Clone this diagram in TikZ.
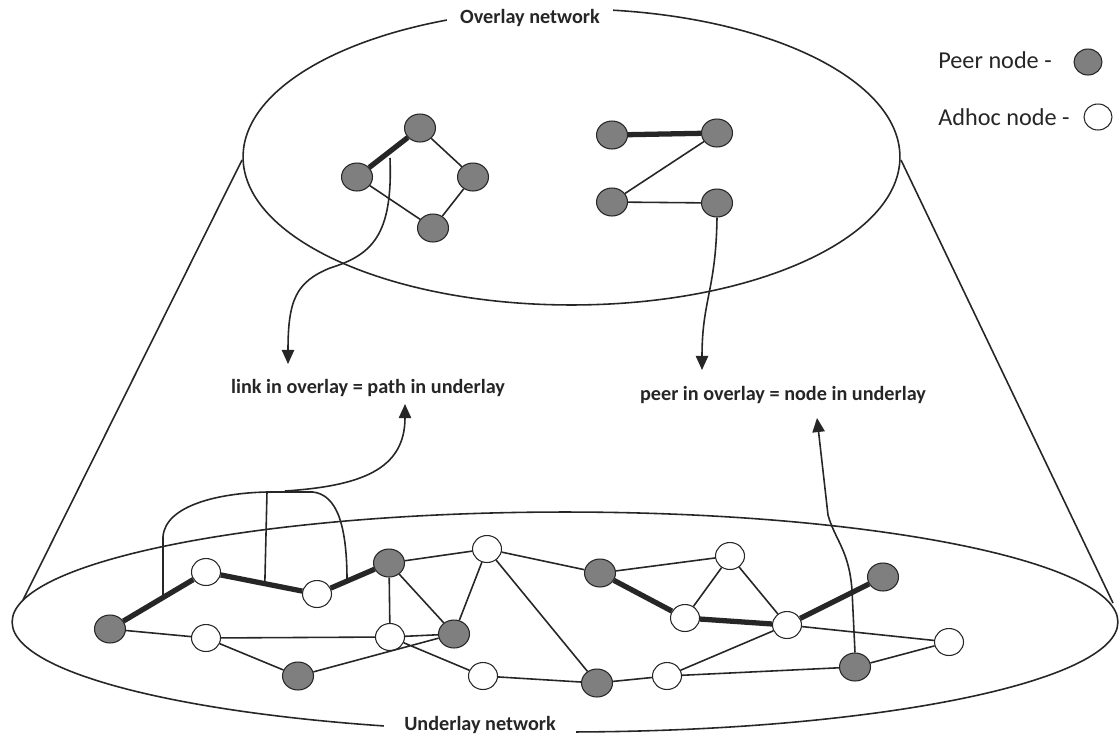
\documentclass[tikz,border=0pt]{standalone}
\usepackage{fontspec}
\setmainfont{Carlito}
\usetikzlibrary{shapes.geometric,arrows.meta,calc}
\definecolor{ink}{HTML}{262626}
\definecolor{peerfill}{HTML}{7F7F7F}
\begin{document}
\begin{tikzpicture}[x=0.02cm,y=-0.02cm,
 peer/.style={ellipse,draw=ink,fill=peerfill,line width=0.6pt,minimum width=0.62cm,minimum height=0.56cm,inner sep=0pt},
 adhoc/.style={ellipse,draw=ink,fill=white,line width=0.6pt,minimum width=0.58cm,minimum height=0.54cm,inner sep=0pt},
 thin link/.style={draw=ink,line width=0.9pt},
 thick link/.style={draw=ink,line width=3pt},
 outline/.style={draw=ink,line width=0.9pt},
 pointer/.style={draw=ink,line width=0.9pt,-{Triangle[length=8pt,width=7pt]}},
 caption/.style={font=\fontsize{11.5}{13}\selectfont\bfseries,text=ink,inner sep=0pt},
 legendtext/.style={font=\fontsize{13.8}{16}\selectfont,text=ink,anchor=west,inner sep=0pt}]
\useasboundingbox (0,0) rectangle (1119,738);
\fill[white] (0,0) rectangle (1119,738);

% overlay and underlay outlines
\draw[outline] (571.5,157) ellipse [x radius=6.57cm, y radius=2.96cm];
\draw[outline] (565,622) ellipse [x radius=11.06cm, y radius=2.2cm];
\draw[outline] (242,160) -- (23,600);
\draw[outline] (901,160) -- (1113,603);

\node[caption,fill=white,inner xsep=0.26cm,inner ysep=2pt] (ovl) at (530,18) {Overlay network};
\node[caption,fill=white,inner xsep=0.4cm,inner ysep=2pt] (unl) at (480,725) {Underlay network};

% overlay peers
\node[peer] (oA) at (420,128) {};
\node[peer] (oB) at (357,177) {};
\node[peer] (oC) at (473,177) {};
\node[peer] (oD) at (433,228) {};
\node[peer] (oE) at (612,135) {};
\node[peer] (oF) at (717,133) {};
\node[peer] (oG) at (612,202) {};
\node[peer] (oH) at (717,203) {};
\draw[thick link] (oA) -- (oB);
\draw[thin link] (oA) -- (oC) (oC) -- (oD) (oB) -- (oD);
\draw[thick link] (oE) -- (oF);
\draw[thin link] (oF) -- (oG) (oG) -- (oH);

% underlay nodes
\node[peer]  (u1)  at (110,629) {};
\node[adhoc] (u2)  at (206,572) {};
\node[adhoc] (u3)  at (317,594) {};
\node[peer]  (u4)  at (389,563) {};
\node[adhoc] (u5)  at (487,549) {};
\node[adhoc] (u6)  at (206,638) {};
\node[adhoc] (u7)  at (390,637) {};
\node[peer]  (u8)  at (454,634) {};
\node[peer]  (u9)  at (298,676) {};
\node[adhoc] (u10) at (483,676) {};
\node[peer]  (u11) at (600,573) {};
\node[adhoc] (u12) at (730,556) {};
\node[adhoc] (u13) at (685,618) {};
\node[adhoc] (u14) at (787,625) {};
\node[peer]  (u15) at (883,577) {};
\node[adhoc] (u16) at (949,642) {};
\node[peer]  (u17) at (597,683) {};
\node[adhoc] (u18) at (667,676) {};
\node[peer]  (u19) at (855,667) {};

\draw[thick link] (u1) -- (u2) (u2) -- (u3) (u3) -- (u4);
\draw[thick link] (u11) -- (u13) (u13) -- (u14) (u14) -- (u15);
\draw[thin link] (u1) -- (u6) (u6) -- (u7) (u6) -- (u9) (u9) -- (u8)
  (u7) -- (u8) (u4) -- (u7) (u4) -- (u8) (u4) -- (u5) (u5) -- (u8)
  (u5) -- (u17) (u5) -- (u11) (u7) -- (u10) (u10) -- (u17)
  (u17) -- (u18) (u18) -- (u14) (u18) -- (u19) (u11) -- (u12)
  (u12) -- (u13) (u12) -- (u14) (u14) -- (u16) (u19) -- (u16);

% captions
\node[caption] (lbl1) at (368,388) {link in overlay = path in underlay};
\node[caption] (lbl2) at (783,395) {peer in overlay = node in underlay};

% overlay link -> caption
\coordinate (a1s) at (390,158);
\coordinate (t1) at (288,364);
\draw[pointer] (a1s) .. controls (393,235) and (372,255) .. (330,268) .. controls (296,282) and (288,300) .. (t1);

% underlay path -> caption
\coordinate (b1) at ($(u1)!0.552!(u2)$);
\coordinate (b2) at ($(u2)!0.53!(u3)$);
\coordinate (b3) at ($(u3)!0.417!(u4)$);
\coordinate (t2) at (405,404);
\draw[outline] (b1) -- (163,537) .. controls (165,505) and (220,493) .. (267,492) -- (313,492) .. controls (337,495) and (347,525) .. (b3);
\draw[outline] (267,492) -- (b2);
\draw[pointer] (285,491) .. controls (360,486) and (405,470) .. (t2);

% peer -> caption
\coordinate (t3) at (702,370);
\draw[pointer] (oH.south) .. controls (716,290) and (702,300) .. (t3);
\coordinate (t4) at (817,418);
\draw[pointer] (u19.north) -- (852,590) .. controls (849,550) and (835,540) .. (828,515) -- (t4);

% legend
\node[legendtext] (lg1) at (938,60) {Peer node -};
\node[peer,minimum width=0.56cm,minimum height=0.52cm] (lgp) at (1088,62) {};
\node[legendtext] (lg2) at (938,117) {Adhoc node -};
\node[adhoc,minimum width=0.56cm,minimum height=0.52cm] (lga) at (1098,117) {};
\end{tikzpicture}
\end{document}
